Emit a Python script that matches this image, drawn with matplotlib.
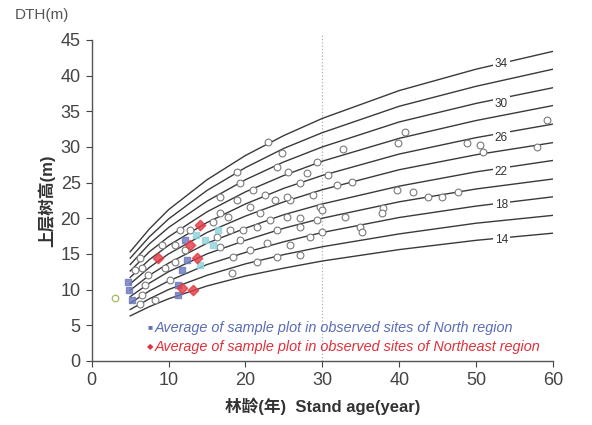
import matplotlib.pyplot as plt

# site index curves (base age 30), heights read at these ages
AGES = [5, 7.5, 10, 15, 20, 25, 30, 40, 50, 60]
SITE_INDEX = [14, 16, 18, 20, 22, 24, 26, 28, 30, 32, 34]
CURVES = [
  [6.3, 7.6, 8.7, 10.5, 11.9, 13.0, 14.0, 15.6, 16.9, 17.9],
  [7.2, 8.7, 10.0, 12.0, 13.6, 14.9, 16.0, 17.8, 19.3, 20.4],
  [8.1, 9.8, 11.2, 13.5, 15.2, 16.7, 18.0, 20.1, 21.7, 23.0],
  [9.0, 10.9, 12.5, 15.0, 16.9, 18.6, 20.0, 22.3, 24.1, 25.5],
  [9.9, 12.0, 13.7, 16.5, 18.6, 20.5, 22.0, 24.5, 26.5, 28.1],
  [10.8, 13.1, 15.0, 18.0, 20.3, 22.3, 24.0, 26.8, 28.9, 30.6],
  [11.7, 14.2, 16.2, 19.4, 22.0, 24.2, 26.0, 29.0, 31.3, 33.2],
  [12.6, 15.3, 17.4, 20.9, 23.7, 26.0, 28.0, 31.2, 33.7, 35.8],
  [13.5, 16.4, 18.7, 22.4, 25.4, 27.9, 30.0, 33.5, 36.1, 38.3],
  [14.4, 17.4, 19.9, 23.9, 27.1, 29.8, 32.0, 35.7, 38.5, 40.9],
  [15.3, 18.5, 21.2, 25.4, 28.8, 31.6, 34.0, 37.9, 40.9, 43.4],
]
LABELLED = [14, 18, 22, 26, 30, 34]
LABEL_AGE = 53.3
LABEL_H = [17.0, 21.8, 26.5, 31.2, 36.0, 41.6]

# observed plots
plot_age = [22.9, 24.7, 18.9, 24.1, 25.5, 28.0, 29.3, 27.1, 28.8, 21.0, 22.5, 23.8, 25.8,
            18.9, 20.6, 17.7, 25.4, 27.1, 23.2, 21.5, 27.1, 19.7, 24.1, 18.0, 28.4, 19.3,
            22.8, 25.8, 20.6, 27.1, 24.1, 18.4, 21.5, 18.2, 25.4, 21.9, 16.7, 15.8, 16.3,
            16.7, 19.3, 16.7, 29.7, 29.3,
            40.8, 39.8, 32.7, 30.7, 31.9, 33.9, 39.7, 41.8, 43.8, 45.6, 47.7, 48.8, 50.5,
            50.9, 37.9, 37.8, 32.9, 34.9, 35.2, 29.9, 29.9, 59.2, 57.9,
            6.6, 6.3, 6.9, 6.6, 6.3, 8.2, 10.2, 9.5, 10.8, 9.2, 10.8, 12.1, 7.3, 5.6, 12.8, 11.5]
plot_h = [30.7, 29.2, 26.5, 27.2, 26.5, 26.4, 27.9, 25.0, 23.3, 24.0, 23.3, 22.6, 22.6,
          22.6, 21.6, 20.2, 20.2, 20.1, 19.8, 18.8, 18.8, 18.4, 18.4, 18.4, 17.4, 17.0,
          16.5, 16.3, 15.6, 14.9, 14.6, 14.6, 13.9, 12.3, 23.0, 20.8, 20.8, 19.4, 17.4,
          16.0, 25.0, 23.0, 21.6, 19.8,
          32.1, 30.6, 29.7, 26.1, 24.7, 25.1, 24.0, 23.7, 23.0, 23.0, 23.7, 30.6, 30.3,
          29.3, 21.5, 20.8, 20.2, 18.7, 18.0, 21.2, 18.1, 33.8, 30.0,
          13.0, 14.4, 10.7, 9.3, 7.9, 8.6, 11.4, 13.0, 13.9, 16.3, 16.3, 15.6, 12.1, 12.8, 18.4, 18.4]

north_age = [4.9, 5.3, 4.7, 11.2, 11.8, 12.4, 11.2, 12.1]
north_h = [10.0, 8.6, 11.1, 10.7, 12.8, 14.2, 9.3, 17.0]
ne_age = [8.6, 13.2, 11.7, 14.1, 12.8, 13.7]
ne_h = [14.4, 10.0, 10.2, 19.1, 16.3, 14.4]
cyan_age = [14.7, 15.8, 14.1, 16.4, 13.5]
cyan_h = [17.0, 16.3, 13.5, 18.4, 17.7]
green_age = [3.0]
green_h = [8.8]

plt.rcParams['font.family'] = ['Liberation Sans', 'Noto Sans CJK SC', 'DejaVu Sans']

fig = plt.figure(figsize=(5.92, 4.25), dpi=100)
ax = fig.add_axes([0.155, 0.151, 0.779, 0.755])

for si, hs in zip(SITE_INDEX, CURVES):
  ax.plot(AGES, hs, color='#3a3a3a', lw=1.0, zorder=2)
for si, h in zip(LABELLED, LABEL_H):
  ax.text(LABEL_AGE, h, str(si), fontsize=8.5, color='#333333', ha='center', va='center',
          bbox=dict(facecolor='white', edgecolor='none', pad=1.5), zorder=3)

ax.axvline(30, ymin=0, ymax=1.02, color='#b0b0b0', lw=0.9, ls=':', zorder=1, clip_on=False)

ax.scatter(plot_age, plot_h, s=24, facecolors='white', edgecolors='#7a7a7a', lw=0.8, zorder=4)
ax.scatter(green_age, green_h, s=22, facecolors='white', edgecolors='#a8b860', lw=0.9, zorder=4)
ax.scatter(cyan_age, cyan_h, s=20, marker='s', color='#8fd4de', alpha=0.8, zorder=5)
ax.scatter(north_age, north_h, s=22, marker='s', color='#6a7abc', alpha=0.8, zorder=5)
ax.scatter(ne_age, ne_h, s=28, marker='D', color='#e23a44', alpha=0.8, zorder=5)

ax.text(7.2, 4.6, '■', color='#6474b8', fontsize=6, va='center')
ax.text(8.2, 4.6, 'Average of sample plot in observed sites of North region',
        color='#5a6cb8', fontsize=10.4, style='italic', va='center')
ax.text(7.2, 2.0, '◆', color='#e0303a', fontsize=6, va='center', family='DejaVu Sans')
ax.text(8.2, 2.0, 'Average of sample plot in observed sites of Northeast region',
        color='#e0303a', fontsize=10.4, style='italic', va='center')

ax.set_xlim(0, 60)
ax.set_ylim(0, 45)
ax.set_xticks(range(0, 61, 10))
ax.set_yticks(range(0, 46, 5))
ax.spines['top'].set_visible(False)
ax.spines['right'].set_visible(False)
for s in ['left', 'bottom']:
  ax.spines[s].set_color('#555555')
  ax.spines[s].set_linewidth(1.0)
ax.tick_params(labelsize=13, colors='#444444', length=4, width=0.8, pad=4)

ax.set_ylabel('上层树高(m)', fontsize=12, fontweight='bold', color='#333333', labelpad=4)
ax.set_xlabel('林龄(年)  Stand age(year)', fontsize=12, fontweight='bold', color='#333333',
              labelpad=6)
fig.text(0.025, 0.955, 'DTH(m)', fontsize=11, color='#555555')

fig.savefig('out.png', dpi=100)
